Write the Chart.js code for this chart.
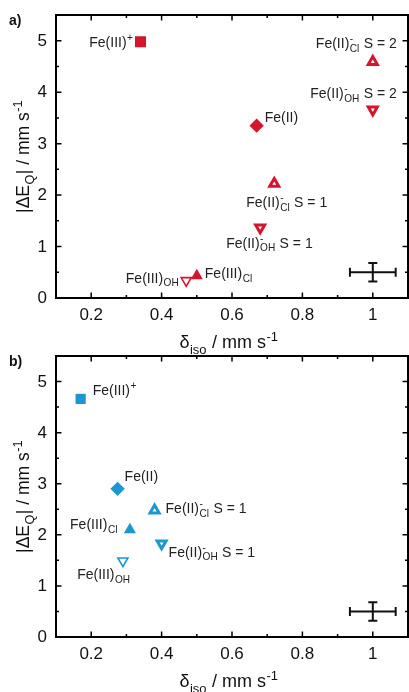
<!DOCTYPE html>
<html><head><meta charset="utf-8">
<script src="https://cdn.jsdelivr.net/npm/chart.js@4"></script>
<style>
html,body{margin:0;padding:0;background:#fff;width:409px;height:692px;overflow:hidden}
.panel{position:absolute;left:0;width:409px}
#pa{top:0;height:365px}#pb{top:355px;height:337px}
canvas{background:transparent}
</style></head><body>
<div class="panel" id="pa"><canvas id="ca" width="409" height="365"></canvas></div>
<div class="panel" id="pb"><canvas id="cb" width="409" height="337"></canvas></div>
<script>
// ---------- data ----------
const compoundsA = ['Fe(III)+','Fe(II)','Fe(II)Cl S=2','Fe(II)OH S=2','Fe(II)Cl S=1','Fe(II)OH S=1','Fe(III)Cl','Fe(III)OH'];
const deltaIsoA  = [0.34, 0.67, 1.00, 1.00, 0.72, 0.68, 0.50, 0.47];
const dEqA       = [4.98, 3.35, 4.59, 3.66, 2.22, 1.37, 0.43, 0.34];

const compoundsB = ['Fe(III)+','Fe(II)','Fe(II)Cl S=1','Fe(III)Cl','Fe(II)OH S=1','Fe(III)OH'];
const deltaIsoB  = [0.17, 0.275, 0.38, 0.31, 0.40, 0.29];
const dEqB       = [4.66, 2.90, 2.48, 2.10, 1.83, 1.49];

const errCenterX = [1.0];
const errCenterY = [0.5];
const errHalfX   = [0.065];
const errHalfY   = [0.18];

const xTickValues = [0.2, 0.4, 0.6, 0.8, 1.0];
const xTickLabels = ['0.2', '0.4', '0.6', '0.8', '1'];
const yTickValues = [0, 1, 2, 3, 4, 5];
const yTickLabels = ['0', '1', '2', '3', '4', '5'];

// ---------- styles ----------
const RED = '#d5152d', BLUE = '#1d97cf';
const FONT = '"Liberation Sans", Arial, Helvetica, sans-serif';

const markerStyle = {
  'Fe(III)+':     {pointStyle:'rect',     rotation:0,   fill:true,  bw:0,   rA:7.8, rB:7.2},
  'Fe(II)':       {pointStyle:'rectRot',  rotation:0,   fill:true,  bw:0,   rA:7.2, rB:7.2},
  'Fe(II)Cl S=2': {pointStyle:'triangle', rotation:0,   fill:false, bw:3,   rA:5.2, rB:5.2},
  'Fe(II)OH S=2': {pointStyle:'triangle', rotation:180, fill:false, bw:3,   rA:5.2, rB:5.2},
  'Fe(II)Cl S=1': {pointStyle:'triangle', rotation:0,   fill:false, bw:3,   rA:5.2, rB:5.2},
  'Fe(II)OH S=1': {pointStyle:'triangle', rotation:180, fill:false, bw:3,   rA:5.2, rB:5.2},
  'Fe(III)Cl':    {pointStyle:'triangle', rotation:0,   fill:true,  bw:0,   rA:7.0, rB:7.0},
  'Fe(III)OH':    {pointStyle:'triangle', rotation:180, fill:false, bw:1.6, rA:5.8, rB:5.8}
};

// rich label text
const labelText = {
  'Fe(III)+':     [{t:'Fe(III)'},{sup:'+'}],
  'Fe(II)':       [{t:'Fe(II)'}],
  'Fe(II)Cl S=2': [{t:'Fe(II)'},{sup:'-',sub:'Cl'},{t:' S = 2'}],
  'Fe(II)OH S=2': [{t:'Fe(II)'},{sup:'-',sub:'OH'},{t:' S = 2'}],
  'Fe(II)Cl S=1': [{t:'Fe(II)'},{sup:'-',sub:'Cl'},{t:' S = 1'}],
  'Fe(II)OH S=1': [{t:'Fe(II)'},{sup:'-',sub:'OH'},{t:' S = 1'}],
  'Fe(III)Cl':    [{t:'Fe(III)'},{sub:'Cl'}],
  'Fe(III)OH':    [{t:'Fe(III)'},{sub:'OH'}]
};

// label placement relative to its marker (pixels)
const labelPlaceA = {
  'Fe(III)+':     ['right', -7, 0],
  'Fe(II)':       ['left', 8, -9],
  'Fe(II)Cl S=2': ['right', 24, -19],
  'Fe(II)OH S=2': ['right', 24, -17],
  'Fe(II)Cl S=1': ['left', -28, 18],
  'Fe(II)OH S=1': ['left', -34, 15],
  'Fe(III)Cl':    ['left', 8, -3],
  'Fe(III)OH':    ['right', -7, -3]
};
const labelPlaceB = {
  'Fe(III)+':     ['left', 12, -9],
  'Fe(II)':       ['left', 7, -13],
  'Fe(II)Cl S=1': ['left', 11, -2],
  'Fe(III)Cl':    ['right', -12, -6],
  'Fe(II)OH S=1': ['left', 7, 8],
  'Fe(III)OH':    ['center', -19, 13]
};

// ---------- rich text helpers ----------
function fontOf(px, bold){ return (bold?'bold ':'') + px + 'px ' + FONT; }
function richWidth(ctx, parts, fs){
  let w = 0;
  for (const p of parts){
    if (p.t !== undefined){ ctx.font = fontOf(fs); w += ctx.measureText(p.t).width; }
    else {
      ctx.font = fontOf(fs*0.72);
      const a = p.sup ? ctx.measureText(p.sup).width : 0;
      const b = p.sub ? ctx.measureText(p.sub).width : 0;
      w += Math.max(a,b) + 1;
    }
  }
  return w;
}
function drawRich(ctx, parts, x, cy, fs, align, color){
  const w = richWidth(ctx, parts, fs);
  let cx = align === 'right' ? x - w : (align === 'center' ? x - w/2 : x);
  const base = cy + 0.36*fs;
  ctx.fillStyle = color || '#222';
  ctx.textAlign = 'left';
  ctx.textBaseline = 'alphabetic';
  for (const p of parts){
    if (p.t !== undefined){
      ctx.font = fontOf(fs);
      ctx.fillText(p.t, cx, base);
      cx += ctx.measureText(p.t).width;
    } else {
      ctx.font = fontOf(fs*0.72);
      let mw = 0;
      if (p.sup){ ctx.fillText(p.sup, cx+0.5, base - 0.42*fs); mw = Math.max(mw, ctx.measureText(p.sup).width); }
      if (p.sub){ ctx.fillText(p.sub, cx+0.5, base + 0.28*fs); mw = Math.max(mw, ctx.measureText(p.sub).width); }
      cx += mw + 1;
    }
  }
}

// ---------- chart builder ----------
function buildPanel(canvasId, names, xs, ys, place, color, letter, padTop, xAxisH, radiusKey){
  const datasets = names.map((n, i) => {
    const s = markerStyle[n];
    return {
      label: n,
      data: [{x: xs[i], y: ys[i]}],
      pointStyle: s.pointStyle,
      rotation: s.rotation,
      pointRadius: s[radiusKey],
      pointHoverRadius: s[radiusKey],
      backgroundColor: s.fill ? color : '#ffffff',
      borderColor: color,
      borderWidth: s.fill ? 0 : s.bw,
      pointBorderWidth: s.fill ? 0 : s.bw
    };
  });

  const framePlugin = {
    id: 'frame',
    afterDatasetsDraw(chart){
      const ctx = chart.ctx, a = chart.chartArea;
      const xs_ = chart.scales.x, ys_ = chart.scales.y;
      ctx.save();
      // error bar
      ctx.strokeStyle = '#111'; ctx.lineWidth = 2; ctx.lineCap = 'butt';
      for (let i = 0; i < errCenterX.length; i++){
        const cx = xs_.getPixelForValue(errCenterX[i]);
        const cy = ys_.getPixelForValue(errCenterY[i]);
        const x1 = xs_.getPixelForValue(errCenterX[i] - errHalfX[i]);
        const x2 = xs_.getPixelForValue(errCenterX[i] + errHalfX[i]);
        const y1 = ys_.getPixelForValue(errCenterY[i] + errHalfY[i]);
        const y2 = ys_.getPixelForValue(errCenterY[i] - errHalfY[i]);
        ctx.beginPath();
        ctx.moveTo(x1, cy); ctx.lineTo(x2, cy);
        ctx.moveTo(cx, y1); ctx.lineTo(cx, y2);
        ctx.moveTo(x1, cy-4.5); ctx.lineTo(x1, cy+4.5);
        ctx.moveTo(x2, cy-4.5); ctx.lineTo(x2, cy+4.5);
        ctx.moveTo(cx-4.5, y1); ctx.lineTo(cx+4.5, y1);
        ctx.moveTo(cx-4.5, y2); ctx.lineTo(cx+4.5, y2);
        ctx.stroke();
      }
      // frame
      ctx.strokeStyle = '#000'; ctx.lineWidth = 2;
      ctx.strokeRect(a.left, a.top, a.right - a.left, a.bottom - a.top);
      // ticks (inward), major & minor
      ctx.lineWidth = 1.5;
      ctx.beginPath();
      for (let k = 1; k <= 10; k++){
        const v = 0.1 + k*0.1;
        const px = xs_.getPixelForValue(v);
        if (px >= a.right - 1) continue;
        const major = (k % 2 === 1);
        const L = major ? 5.5 : 3;
        ctx.moveTo(px, a.bottom); ctx.lineTo(px, a.bottom - L);
        ctx.moveTo(px, a.top); ctx.lineTo(px, a.top + L);
      }
      for (let k = 1; k <= 10; k++){
        const v = k*0.5;
        const py = ys_.getPixelForValue(v);
        const major = (k % 2 === 0);
        const L = major ? 5.5 : 3;
        ctx.moveTo(a.left, py); ctx.lineTo(a.left + L, py);
        ctx.moveTo(a.right, py); ctx.lineTo(a.right - L, py);
      }
      ctx.stroke();
      // tick labels
      ctx.fillStyle = '#111';
      ctx.font = fontOf(17);
      ctx.textAlign = 'center'; ctx.textBaseline = 'middle';
      xTickValues.forEach((v, i) => ctx.fillText(xTickLabels[i], xs_.getPixelForValue(v), a.bottom + 17));
      ctx.textAlign = 'right';
      yTickValues.forEach((v, i) => ctx.fillText(yTickLabels[i], a.left - 9, ys_.getPixelForValue(v) + 0.5));
      ctx.restore();
    },
    afterDraw(chart){
      const ctx = chart.ctx, a = chart.chartArea;
      const xs_ = chart.scales.x, ys_ = chart.scales.y;
      ctx.save();
      // point labels
      names.forEach((n, i) => {
        const pl = place[n];
        const px = xs_.getPixelForValue(xs[i]) + pl[1];
        const py = ys_.getPixelForValue(ys[i]) + pl[2];
        drawRich(ctx, labelText[n], px, py, 14, pl[0], '#222');
      });
      // axis titles
      drawRich(ctx, [{t:'\u03B4'},{sub:'iso'},{t:' / mm s'},{sup:'-1'}],
               (a.left + a.right)/2 - 3, a.bottom + 44, 18, 'center', '#111');
      ctx.save();
      ctx.translate(23, (a.top + a.bottom)/2);
      ctx.rotate(-Math.PI/2);
      drawRich(ctx, [{t:'|\u0394E'},{sub:'Q'},{t:'| / mm s'},{sup:'-1'}], 0, 0, 17.5, 'center', '#111');
      ctx.restore();
      // panel letter
      ctx.font = fontOf(14, true);
      ctx.fillStyle = '#111';
      ctx.textAlign = 'left'; ctx.textBaseline = 'middle';
      ctx.fillText(letter, 9, a.top + 6);
      ctx.restore();
    }
  };

  return new Chart(document.getElementById(canvasId), {
    type: 'scatter',
    data: { datasets },
    options: {
      responsive: false,
      animation: false,
      devicePixelRatio: 1,
      layout: { autoPadding: false, padding: { top: padTop, right: 1, left: 0, bottom: 0 } },
      plugins: { legend: { display: false }, tooltip: { enabled: false } },
      scales: {
        x: {
          type: 'linear', min: 0.1, max: 1.1,
          grid: { display: false, drawTicks: false },
          border: { display: false },
          ticks: { display: false },
          afterBuildTicks: s => { s.ticks = xTickValues.map(v => ({value: v})); },
          afterFit: s => { s.height = xAxisH; }
        },
        y: {
          type: 'linear', min: 0, max: 5.5,
          grid: { display: false, drawTicks: false },
          border: { display: false },
          ticks: { display: false },
          afterBuildTicks: s => { s.ticks = yTickValues.map(v => ({value: v})); },
          afterFit: s => { s.width = 56; }
        }
      }
    },
    plugins: [framePlugin]
  });
}

buildPanel('ca', compoundsA, deltaIsoA, dEqA, labelPlaceA, RED,  'a)', 15, 67, 'rA');
buildPanel('cb', compoundsB, deltaIsoB, dEqB, labelPlaceB, BLUE, 'b)', 1, 55, 'rB');
</script>
</body></html>
